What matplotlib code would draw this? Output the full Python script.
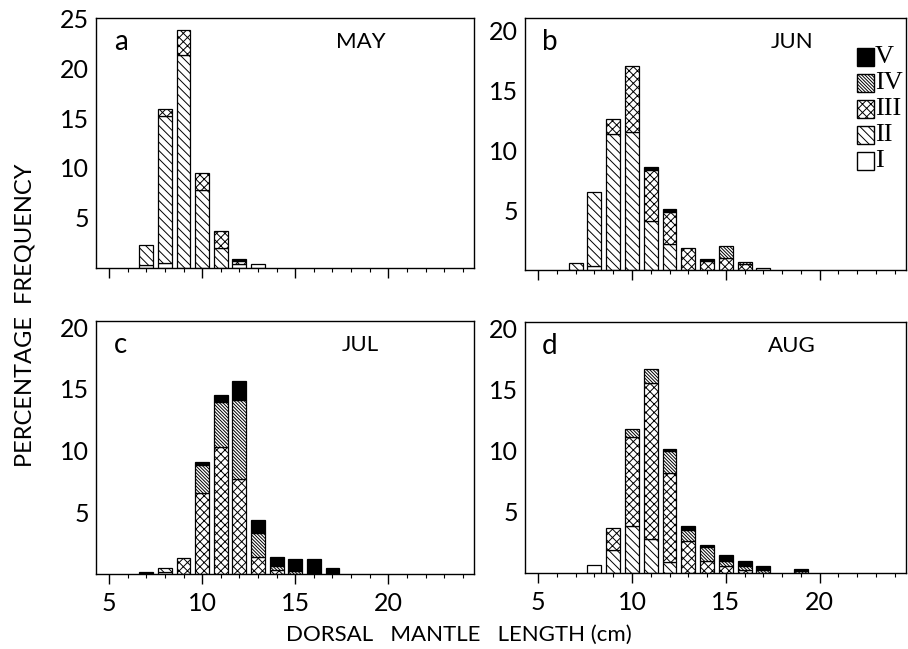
import matplotlib.pyplot as plt
from matplotlib.patches import Rectangle
import numpy as np

# percentage frequency by dorsal mantle length (cm), split by maturity class I..V
may_len = [7, 8, 9, 10, 11, 12, 13]
may_I = [0.3, 0.5, 0.0, 0.0, 0.0, 0.4, 0.4]
may_II = [2.0, 14.7, 21.3, 7.8, 2.0, 0.0, 0.0]
may_III = [0.0, 0.7, 2.5, 1.7, 1.7, 0.3, 0.0]
may_IV = [0.0, 0.0, 0.0, 0.0, 0.0, 0.0, 0.0]
may_V = [0.0, 0.0, 0.0, 0.0, 0.0, 0.2, 0.0]

jun_len = [7, 8, 9, 10, 11, 12, 13, 14, 15, 16, 17]
jun_I = [0.0, 0.3, 0.0, 0.0, 0.0, 0.0, 0.0, 0.0, 0.0, 0.0, 0.2]
jun_II = [0.6, 6.2, 11.3, 11.5, 4.1, 2.2, 0.0, 0.0, 0.0, 0.0, 0.0]
jun_III = [0.0, 0.0, 1.3, 5.5, 4.2, 2.6, 1.8, 0.75, 1.0, 0.5, 0.0]
jun_IV = [0.0, 0.0, 0.0, 0.0, 0.0, 0.0, 0.0, 0.0, 1.0, 0.2, 0.0]
jun_V = [0.0, 0.0, 0.0, 0.0, 0.3, 0.3, 0.0, 0.15, 0.0, 0.0, 0.0]

jul_len = [7, 8, 9, 10, 11, 12, 13, 14, 15, 16, 17]
jul_I = [0.0, 0.2, 0.0, 0.0, 0.0, 0.0, 0.0, 0.0, 0.0, 0.0, 0.0]
jul_II = [0.0, 0.25, 0.0, 0.0, 0.0, 0.0, 0.0, 0.0, 0.0, 0.0, 0.0]
jul_III = [0.0, 0.0, 1.3, 6.6, 10.3, 7.7, 1.4, 0.3, 0.0, 0.0, 0.0]
jul_IV = [0.0, 0.0, 0.0, 2.2, 3.6, 6.4, 1.9, 0.35, 0.25, 0.0, 0.0]
jul_V = [0.2, 0.0, 0.0, 0.3, 0.6, 1.5, 1.1, 0.7, 1.0, 1.25, 0.45]

aug_len = [8, 9, 10, 11, 12, 13, 14, 15, 16, 17, 19]
aug_I = [0.65, 0.0, 0.0, 0.0, 0.0, 0.0, 0.0, 0.0, 0.0, 0.0, 0.0]
aug_II = [0.0, 1.9, 3.8, 2.8, 0.9, 0.0, 0.0, 0.0, 0.0, 0.0, 0.0]
aug_III = [0.0, 1.75, 7.3, 12.7, 7.3, 2.6, 1.0, 0.55, 0.25, 0.0, 0.0]
aug_IV = [0.0, 0.0, 0.65, 1.2, 1.75, 0.9, 1.1, 0.4, 0.3, 0.25, 0.17]
aug_V = [0.0, 0.0, 0.0, 0.0, 0.15, 0.3, 0.2, 0.55, 0.4, 0.3, 0.15]

months = ["MAY", "JUN", "JUL", "AUG"]
letters = ["a", "b", "c", "d"]

# fill/hatch for each class I..V
styles = [
    dict(facecolor="white", hatch=None),
    dict(facecolor="white", hatch="\\\\\\\\"),
    dict(facecolor="white", hatch="xxxx"),
    dict(facecolor="white", hatch="\\\\\\\\\\\\\\\\\\\\"),
    dict(facecolor="black", hatch=None),
]

plt.rcParams['font.family'] = ['Lato', 'DejaVu Sans']
plt.rcParams['hatch.linewidth'] = 0.7

fig = plt.figure(figsize=(9.08, 6.49), dpi=100)
W, H = 908, 649


def add_ax(x0, x1, y0, y1):
    return fig.add_axes([x0 / W, 1 - y1 / H, (x1 - x0) / W, (y1 - y0) / H])


axes = [add_ax(96, 474, 18, 268), add_ax(525, 906, 18, 270),
        add_ax(96, 474, 321, 574), add_ax(525, 906, 322, 573)]
data = [
    (may_len, [may_I, may_II, may_III, may_IV, may_V]),
    (jun_len, [jun_I, jun_II, jun_III, jun_IV, jun_V]),
    (jul_len, [jul_I, jul_II, jul_III, jul_IV, jul_V]),
    (aug_len, [aug_I, aug_II, aug_III, aug_IV, aug_V]),
]
ylims = [25, 21, 20.5, 20.5]
yticks = [[5, 10, 15, 20, 25], [5, 10, 15, 20], [5, 10, 15, 20], [5, 10, 15, 20]]

for i, ax in enumerate(axes):
    lens, classes = data[i]
    bottom = np.zeros(len(lens))
    for vals, st in zip(classes, styles):
        vals = np.array(vals)
        for x, b, v in zip(lens, bottom, vals):
            if v > 0:
                ax.bar(x, v, bottom=b, width=0.74, edgecolor="black",
                       linewidth=0.9, **st)
        bottom += vals

    ax.set_xlim(4.3, 24.6)
    ax.set_ylim(0, ylims[i])
    ax.set_yticks(yticks[i])
    ax.set_xticks([5, 10, 15, 20])
    ax.set_xticks(range(5, 25), minor=True)
    ax.tick_params(axis="y", length=0, pad=5, labelsize=18)
    ax.tick_params(axis="x", which="major", length=7, width=1, direction="out",
                   pad=6, labelsize=18)
    ax.tick_params(axis="x", which="minor", length=3, width=0.8, direction="out")
    if i < 2:
        ax.tick_params(axis="x", labelbottom=False)
    for s in ax.spines.values():
        s.set_linewidth(1.0)

    ax.text(0.065, 0.905, letters[i], transform=ax.transAxes, fontsize=20,
            ha="center", va="center")
    ax.text(0.70, 0.905, months[i], transform=ax.transAxes, fontsize=16,
            ha="center", va="center")

# legend in panel b, drawn as boxes + roman numerals
axb = axes[1]
for k, cls in enumerate(["V", "IV", "III", "II", "I"]):
    st = styles[4 - k]
    yc = 1 - (57 + 26 * k - 18) / 252
    axb.add_patch(Rectangle((0.872, yc - 0.034), 0.045, 0.068,
                            transform=axb.transAxes, edgecolor="black",
                            linewidth=1.0, clip_on=False, **st))
    axb.text(0.918, yc, cls, transform=axb.transAxes, fontsize=19,
             family=["Liberation Serif", "DejaVu Serif"], ha="left", va="center")

fig.text(459 / W, 1 - 635 / H, "DORSAL   MANTLE   LENGTH (cm)",
         fontsize=16, ha="center", va="center")
fig.text(25 / W, 1 - 315 / H, "PERCENTAGE  FREQUENCY", fontsize=17,
         rotation=90, ha="center", va="center")

fig.savefig("out.png", dpi=100)
